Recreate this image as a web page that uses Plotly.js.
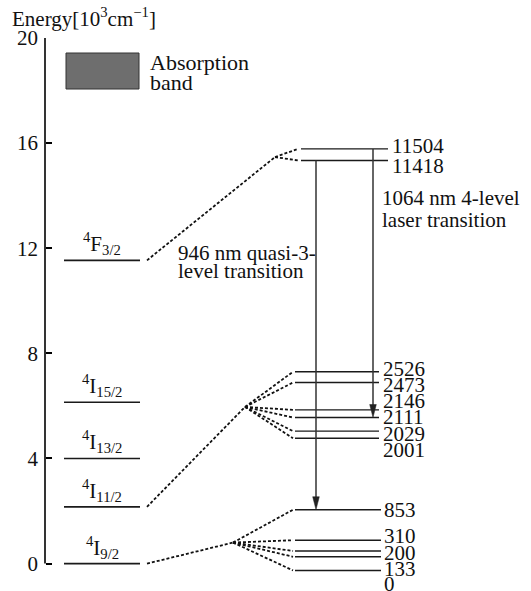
<!DOCTYPE html>
<html><head><meta charset="utf-8">
<script src="https://cdn.plot.ly/plotly-3.0.1.min.js"></script>
<style>html,body{margin:0;padding:0;background:#fff}#chart{width:531px;height:591px}</style>
</head><body><div id="chart"></div>
<script>
// ---- data: energies in 10^3 cm^-1 ----
const stateNames = ['<sup>4</sup>I<sub>9/2</sub>', '<sup>4</sup>I<sub>11/2</sub>', '<sup>4</sup>I<sub>13/2</sub>', '<sup>4</sup>I<sub>15/2</sub>', '<sup>4</sup>F<sub>3/2</sub>'];
const stateEnergies = [0, 2.16, 4.0, 6.14, 11.54];

const f32Labels = ['11504', '11418'];
const f32Levels = [15.78, 15.34];
const i112Labels = ['2526', '2473', '2146', '2111', '2029', '2001'];
const i112Levels = [7.30, 6.89, 5.85, 5.56, 5.04, 4.77];
const i92Labels = ['853', '310', '200', '133', '0'];
const i92Levels = [2.05, 0.89, 0.48, 0.26, -0.26];
const hubLevels = [15.47, 5.96, 0.80];   // where the dotted split lines fan out

const tickValues = [0, 4, 8, 12, 16, 20];
const axisTitle = 'Energy[10<sup>3</sup>cm<sup>−1</sup>]';
const transitionText = [['946 nm quasi-3-', 'level transition'], ['1064 nm 4-level', 'laser transition']];
const legendText = ['Absorption', 'band'];

// ---- layout constants (positions / styles) ----
const FONT = 'Liberation Serif, serif';
const W = 531, H = 591, ML = 40, MR = 0, MT = 38, MB = 9;
const PW = W - ML - MR, PH = H - MT - MB;
const paperX = p => (p - ML) / PW;
const paperY = p => (H - MB - p) / PH;
const YR = [-0.7, 20];
const pxPerY = PH / (YR[1] - YR[0]);

const STATE_X = [19, 95];
const groups = [
  {state: 4, levels: f32Levels, labels: f32Labels, hub: hubLevels[0], hubX: 230, endX: 253, lineX: [256, 343], labelX: 345, shift: [3, -6]},
  {state: 1, levels: i112Levels, labels: i112Labels, hub: hubLevels[1], hubX: 200, endX: 248, lineX: [250, 334], labelX: 336, shift: [3, -2, 9, 0, -3, -12]},
  {state: 0, levels: i92Levels, labels: i92Labels, hub: hubLevels[2], hubX: 188, endX: 248, lineX: [250, 336], labelX: 337, shift: [0, 4, -2, -12, -14]}
];
const CONN_START = 102;
const arrows = [
  {x: 271, from: f32Levels[1], to: i92Levels[0]},
  {x: 328, from: f32Levels[0], to: i112Levels[3]}
];
const HEAD_LEN = 13 / pxPerY, HEAD_HALF = 3.3;
const TXT = 21;

const traces = [];
// main manifolds
const sx = [], sy = [];
stateEnergies.forEach(e => { sx.push(STATE_X[0], STATE_X[1], null); sy.push(e, e, null); });
traces.push({x: sx, y: sy, mode: 'lines', line: {color: '#1a1a1a', width: 1.6}, hoverinfo: 'skip'});
// Stark sublevels
const lx = [], ly = [];
groups.forEach(g => g.levels.forEach(v => { lx.push(g.lineX[0], g.lineX[1], null); ly.push(v, v, null); }));
traces.push({x: lx, y: ly, mode: 'lines', line: {color: '#1a1a1a', width: 1.4}, hoverinfo: 'skip'});
// dotted split lines
const cx = [], cy = [];
groups.forEach(g => {
  cx.push(CONN_START, g.hubX, null); cy.push(stateEnergies[g.state], g.hub, null);
  g.levels.forEach(v => { cx.push(g.hubX, g.endX, null); cy.push(g.hub, v, null); });
});
traces.push({x: cx, y: cy, mode: 'lines', line: {color: '#111', width: 1.8, dash: '3px,2px'}, hoverinfo: 'skip'});
// transition arrows
arrows.forEach(a => {
  traces.push({x: [a.x, a.x], y: [a.from, a.to + HEAD_LEN * 0.8], mode: 'lines', line: {color: '#333', width: 1.5}, hoverinfo: 'skip'});
  traces.push({x: [a.x - HEAD_HALF, a.x + HEAD_HALF, a.x, a.x - HEAD_HALF], y: [a.to + HEAD_LEN, a.to + HEAD_LEN, a.to, a.to + HEAD_LEN],
    mode: 'lines', fill: 'toself', fillcolor: '#222', line: {color: '#222', width: 0.5}, hoverinfo: 'skip'});
});
// energy axis line from 0 to 20
traces.push({x: [0, 0], y: [tickValues[0], tickValues[tickValues.length - 1]], mode: 'lines', line: {color: '#000', width: 1.6}, hoverinfo: 'skip'});

const annotations = [];
stateNames.forEach((n, i) => annotations.push({x: (STATE_X[0] + STATE_X[1]) / 2, y: stateEnergies[i], xref: 'x', yref: 'y', text: n,
  showarrow: false, xanchor: 'center', yanchor: 'bottom', yshift: 0, font: {family: FONT, size: TXT, color: '#111'}}));
groups.forEach(g => g.labels.forEach((t, i) => annotations.push({x: g.labelX, y: g.levels[i], xref: 'x', yref: 'y', text: t,
  showarrow: false, xanchor: 'left', yanchor: 'middle', yshift: g.shift[i], font: {family: FONT, size: TXT, color: '#111'}})));
const tPos = [{x: 131, y: [11.82, 11.12]}, {x: 335, y: [13.91, 13.09]}];
transitionText.forEach((lines, k) => lines.forEach((t, j) => annotations.push({x: tPos[k].x, y: tPos[k].y[j], xref: 'x', yref: 'y', text: t,
  showarrow: false, xanchor: 'left', yanchor: 'middle', font: {family: FONT, size: TXT, color: '#111'}})));
legendText.forEach((t, j) => annotations.push({x: paperX(148), y: paperY([63, 82][j]), xref: 'paper', yref: 'paper', text: t,
  showarrow: false, xanchor: 'left', yanchor: 'middle', font: {family: FONT, size: 22, color: '#111'}}));
annotations.push({x: paperX(10), y: paperY(17), xref: 'paper', yref: 'paper', text: axisTitle, showarrow: false,
  xanchor: 'left', yanchor: 'middle', font: {family: FONT, size: 21, color: '#111'}});

const layout = {
  width: W, height: H, margin: {l: ML, r: MR, t: MT, b: MB},
  paper_bgcolor: '#fff', plot_bgcolor: '#fff', showlegend: false,
  font: {family: FONT},
  xaxis: {range: [-5, PW - 5], visible: false, fixedrange: true},
  yaxis: {range: YR, anchor: 'free', position: paperX(45), tickvals: tickValues, ticktext: tickValues.map(String),
    ticks: 'inside', ticklen: 6, tickwidth: 1.5, tickcolor: '#000', showline: false, showgrid: false, zeroline: false,
    ticklabelstandoff: 7, tickfont: {family: FONT, size: 21, color: '#111'}, fixedrange: true},
  shapes: [{type: 'rect', xref: 'paper', yref: 'paper', x0: paperX(66), x1: paperX(139), y0: paperY(89), y1: paperY(53),
    fillcolor: '#6e6e6e', line: {color: '#333', width: 1}}],
  annotations: annotations
};
Plotly.newPlot('chart', traces, layout, {displayModeBar: false});
</script></body></html>
